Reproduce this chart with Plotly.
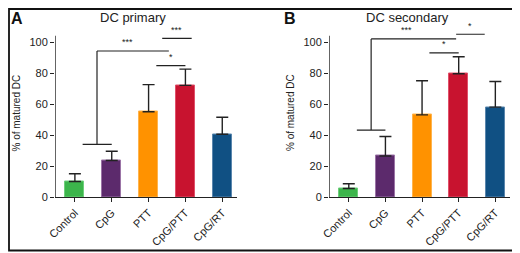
import plotly.graph_objects as go

categories = ["Control", "CpG", "PTT", "CpG/PTT", "CpG/RT"]
primary_mean = [10, 23.5, 55, 72, 40.5]
primary_err = [5, 6, 17.5, 10.5, 11]
secondary_mean = [5.5, 26.5, 53, 79.5, 58]
secondary_err = [3, 12.5, 22, 11, 16.5]
colors = ["#3cb54b", "#5c2a6c", "#ff9200", "#c8132f", "#105083"]
edge_colors = ["#6fcf7c", "#9b74a6", "#ffb44d", "#e0506a", "#5a86ad"]
yticks = [0, 20, 40, 60, 80, 100]

# significance brackets: (x0, x1, y, label, label_x)
brackets_a = [(2.21, 3.0, 84.7, "*", 2.6), (2.37, 3.17, 102.4, "***", 2.77)]
brackets_b = [(2.2, 3.0, 93, "*", 2.6), (2.93, 3.71, 105, "*", 3.32)]
# group bracket: (x0, x1, low_y, xmid, high_y, x_end, label, label_x)
group_a = (0.21, 1.0, 34, 0.6, 94.2, 2.55, "***", 1.42)
group_b = (0.22, 1.0, 43.2, 0.61, 102, 2.93, "***", 1.57)

OFF = 8  # page body margin
W, H = 520 - OFF, 253 - OFF
XR = [-0.54, 4.4]
YR = [0, 110]
FONT = "Liberation Sans, Arial, sans-serif"
NARROW = "Liberation Sans Narrow, Arial Narrow, Liberation Sans, sans-serif"


def px(x):
    return (x - OFF) / W


def py(y):
    return 1 - (y - OFF) / H


fig = go.Figure()
for i, (means, errs) in enumerate([(primary_mean, primary_err), (secondary_mean, secondary_err)]):
    suffix = "" if i == 0 else "2"
    fig.add_trace(go.Bar(
        x=list(range(len(categories))), y=means,
        marker=dict(color=colors, line=dict(color=edge_colors, width=1)),
        width=0.52,
        error_y=dict(type="data", array=errs, arrayminus=[0] * len(errs), symmetric=False,
                     color="#222222", thickness=1.4, width=6),
        xaxis="x" + suffix, yaxis="y" + suffix, showlegend=False,
    ))

shapes = []
annotations = []
for suffix, brackets, group in [("", brackets_a, group_a), ("2", brackets_b, group_b)]:
    xr, yr = "x" + suffix, "y" + suffix
    line = dict(color="#222222", width=1.2)
    shapes.append(dict(type="line", xref=xr, yref=yr, x0=XR[0], x1=XR[0], y0=0, y1=104,
                       line=dict(color="#222222", width=1.4)))
    for x0, x1, y, lab, lx in brackets:
        shapes.append(dict(type="line", xref=xr, yref=yr, x0=x0, x1=x1, y0=y, y1=y, line=line))
        annotations.append(dict(xref=xr, yref=yr, x=lx, y=y + 1.0, text=lab, showarrow=False,
                                xanchor="center", yanchor="bottom",
                                font=dict(size=9, color="#222", family=FONT)))
    x0, x1, ly, xm, hy, xe, lab, lx = group
    shapes.append(dict(type="line", xref=xr, yref=yr, x0=x0, x1=x1, y0=ly, y1=ly, line=line))
    shapes.append(dict(type="line", xref=xr, yref=yr, x0=xm, x1=xm, y0=ly, y1=hy, line=line))
    shapes.append(dict(type="line", xref=xr, yref=yr, x0=xm, x1=xe, y0=hy, y1=hy, line=line))
    annotations.append(dict(xref=xr, yref=yr, x=lx, y=hy + 1.0, text=lab, showarrow=False,
                            xanchor="center", yanchor="bottom",
                            font=dict(size=9, color="#222", family=FONT)))

# outer frame
shapes.append(dict(type="rect", xref="paper", yref="paper", x0=px(9), x1=px(515.5), y0=py(250.5), y1=py(9),
                   line=dict(color="#111", width=1.8)))

# panel letters, titles and y-axis titles
annotations += [
    dict(xref="paper", yref="paper", x=px(17), y=py(8.5), text="<b>A</b>", showarrow=False,
         xanchor="center", yanchor="top", borderpad=0, font=dict(size=16, color="#111", family=FONT)),
    dict(xref="paper", yref="paper", x=px(290), y=py(8.5), text="<b>B</b>", showarrow=False,
         xanchor="center", yanchor="top", borderpad=0, font=dict(size=16, color="#111", family=FONT)),
    dict(xref="paper", yref="paper", x=px(133), y=py(17), text="DC primary", showarrow=False,
         xanchor="center", yanchor="middle", font=dict(size=13, color="#222", family=FONT)),
    dict(xref="paper", yref="paper", x=px(407), y=py(17), text="DC secondary", showarrow=False,
         xanchor="center", yanchor="middle", font=dict(size=13, color="#222", family=FONT)),
    dict(xref="paper", yref="paper", x=px(15.5), y=py(113), text="% of matured DC", showarrow=False,
         textangle=-90, xanchor="center", yanchor="middle", borderpad=0,
         font=dict(size=10, color="#222", family=NARROW)),
    dict(xref="paper", yref="paper", x=px(290), y=py(113), text="% of matured DC", showarrow=False,
         textangle=-90, xanchor="center", yanchor="middle", borderpad=0,
         font=dict(size=10, color="#222", family=NARROW)),
]

ycommon = dict(range=YR, tickvals=yticks, showline=False, ticks="outside", ticklen=4, tickwidth=1.2,
               tickcolor="#222", showgrid=False, zeroline=False, automargin=False,
               tickfont=dict(size=11, color="#222", family=FONT))
xcommon = dict(range=XR, tickvals=list(range(len(categories))), ticktext=categories, tickangle=-45,
               showline=True, linecolor="#222", linewidth=1.4, ticks="outside", ticklen=4, tickwidth=1.2,
               tickcolor="#222", showgrid=False, zeroline=False, automargin=False,
               tickfont=dict(size=11, color="#222", family=FONT))

y0_px = 197
ydom = [py(y0_px), py(y0_px - (YR[1] - YR[0]) * 1.55)]
fig.update_layout(
    width=W, height=H, margin=dict(l=0, r=0, t=0, b=0, autoexpand=False),
    paper_bgcolor="white", plot_bgcolor="white", bargap=0,
    xaxis=dict(domain=[px(55), px(237)], anchor="y", **xcommon),
    yaxis=dict(domain=ydom, anchor="x", **ycommon),
    xaxis2=dict(domain=[px(329), px(510)], anchor="y2", **xcommon),
    yaxis2=dict(domain=ydom, anchor="x2", **ycommon),
    shapes=shapes, annotations=annotations,
)
fig.write_html("out.html")
